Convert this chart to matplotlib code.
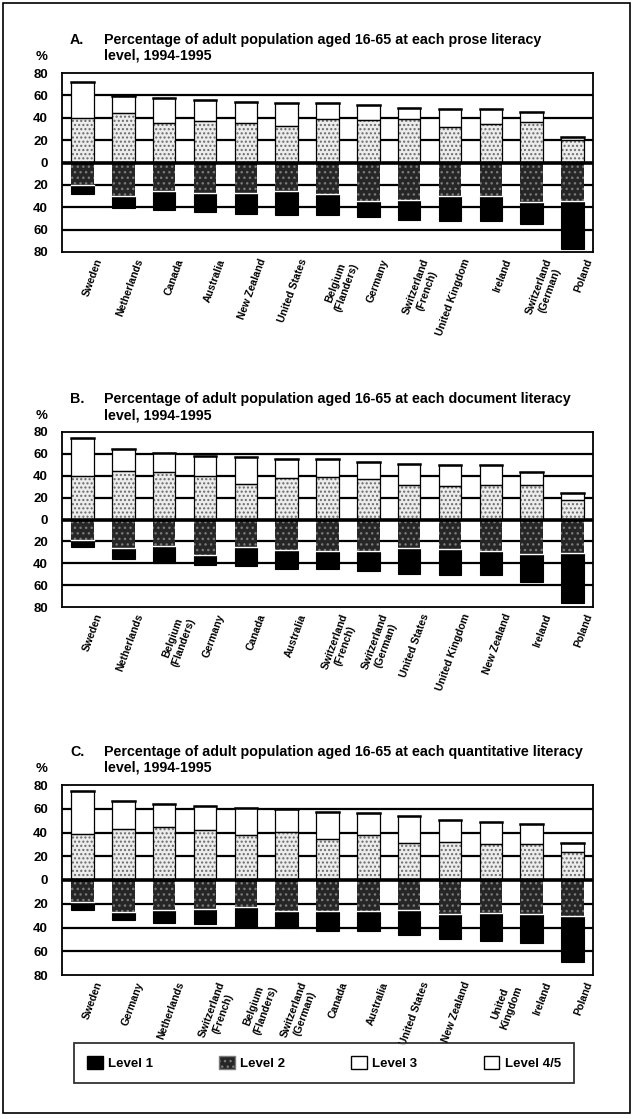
import numpy as np
import matplotlib
matplotlib.use("Agg")
import matplotlib.pyplot as plt
from matplotlib.patches import Patch, Rectangle

plt.rcParams['font.family'] = ['Liberation Sans', 'DejaVu Sans']
plt.rcParams['font.weight'] = 'bold'
plt.rcParams['hatch.linewidth'] = 1.0

levels = ["Level 1", "Level 2", "Level 3", "Level 4/5"]

# A. prose literacy
prose_countries = ["Sweden", "Netherlands", "Canada", "Australia", "New Zealand",
                   "United States", "Belgium\n(Flanders)", "Germany",
                   "Switzerland\n(French)", "United Kingdom", "Ireland",
                   "Switzerland\n(German)", "Poland"]
prose_l1 = [7.5, 10.5, 16.6, 17.0, 18.4, 20.7, 18.4, 14.4, 17.6, 21.8, 22.6, 19.3, 42.6]
prose_l2 = [20.3, 30.1, 25.6, 27.1, 27.3, 25.9, 28.2, 34.2, 33.7, 30.3, 29.8, 35.7, 34.5]
prose_l3 = [39.7, 44.1, 35.1, 36.9, 35.0, 32.4, 39.0, 38.0, 38.6, 31.3, 34.1, 36.1, 19.8]
prose_l45 = [32.4, 15.3, 22.7, 18.9, 19.2, 21.1, 14.3, 13.4, 10.0, 16.6, 13.5, 8.9, 3.1]

# B. document literacy
doc_countries = ["Sweden", "Netherlands", "Belgium\n(Flanders)", "Germany", "Canada",
                 "Australia", "Switzerland\n(French)", "Switzerland\n(German)",
                 "United States", "United Kingdom", "New Zealand", "Ireland", "Poland"]
doc_l1 = [6.2, 10.1, 15.3, 9.0, 18.2, 17.0, 16.2, 18.1, 23.7, 23.3, 21.4, 25.3, 45.4]
doc_l2 = [18.9, 25.7, 24.2, 32.7, 24.7, 27.8, 28.8, 29.1, 25.9, 27.1, 29.2, 31.7, 30.7]
doc_l3 = [39.4, 44.2, 43.2, 39.5, 32.1, 37.7, 38.9, 36.6, 31.4, 30.5, 31.9, 31.5, 18.0]
doc_l45 = [35.5, 20.0, 17.2, 18.9, 25.1, 17.4, 16.0, 16.1, 19.0, 19.1, 17.6, 11.5, 5.8]

# C. quantitative literacy
quant_countries = ["Sweden", "Germany", "Netherlands", "Switzerland\n(French)",
                   "Belgium\n(Flanders)", "Switzerland\n(German)", "Canada", "Australia",
                   "United States", "New Zealand", "United\nKingdom", "Ireland", "Poland"]
quant_l1 = [6.6, 6.7, 10.3, 12.9, 16.7, 14.2, 16.9, 16.8, 21.0, 20.4, 23.2, 24.8, 39.1]
quant_l2 = [18.6, 26.6, 25.5, 24.5, 23.0, 26.2, 26.1, 26.5, 25.3, 28.9, 27.8, 28.3, 30.1]
quant_l3 = [39.0, 43.2, 44.3, 42.2, 37.8, 40.7, 34.8, 37.7, 31.3, 32.4, 30.4, 30.7, 24.0]
quant_l45 = [35.8, 23.5, 19.9, 20.4, 22.6, 19.0, 22.2, 19.1, 22.5, 18.3, 18.6, 16.2, 6.8]

W, H = 634, 1119
fig = plt.figure(figsize=(W / 100, H / 100), dpi=100)

# outer frame
fig.patches.append(Rectangle((3 / W, 1 - 1113 / H), 627 / W, 1110 / H, transform=fig.transFigure,
                             fill=False, edgecolor="black", linewidth=1.2))

L3_FACE, L3_DOT = "#ececec", "#6a6a6a"
L2_FACE, L2_DOT = "#262626", "#7a7a7a"


def panel(top, bottom, letter, kind, countries, l1, l2, l3, l45):
    ax = fig.add_axes([62 / W, 1 - bottom / H, 531 / W, (bottom - top) / H])
    x = np.arange(len(countries))
    w = 0.55
    l1, l2, l3, l45 = map(np.array, (l1, l2, l3, l45))

    for yv in [60, 40, 20, -20, -40, -60]:
        ax.axhline(yv, color="black", lw=1.6, zorder=1)

    # below zero: Level 2 next to zero, Level 1 underneath
    ax.bar(x, -l2, w, color=L2_FACE, edgecolor=L2_DOT, hatch="...", lw=0, zorder=2)
    ax.bar(x, -l1, w, bottom=-l2, color="black", edgecolor="black", lw=0.8, zorder=2)
    ax.plot([x - w / 2, x + w / 2], [-l2, -l2], color="white", lw=1.0, zorder=3)
    # above zero: Level 3 then Level 4/5
    ax.bar(x, l3, w, color=L3_FACE, edgecolor=L3_DOT, hatch="....", lw=0, zorder=2)
    ax.bar(x, l3, w, fill=False, edgecolor="black", lw=0.9, zorder=3)
    ax.bar(x, l45, w, bottom=l3, color="white", edgecolor="black", lw=0.9, zorder=2)
    ax.plot([x - w / 2, x + w / 2], [l3 + l45, l3 + l45], color="black", lw=1.8, zorder=3)

    ax.axhline(0, color="black", lw=2.6, zorder=4)

    ax.set_xlim(-0.5, len(countries) - 0.5)
    ax.set_ylim(-80, 80)
    ticks = np.arange(-80, 81, 20)
    ax.set_yticks(ticks)
    ax.set_yticklabels([str(abs(t)) for t in ticks], fontsize=9.5, fontweight="bold")
    ax.tick_params(axis="y", length=0, pad=10)
    ax.set_xticks(x + 0.3)
    ax.set_xticklabels(countries, fontsize=7.6, fontweight="bold", rotation=70,
                       ha="right", va="top", rotation_mode="anchor", multialignment="center")
    ax.tick_params(axis="x", length=0, pad=4)
    for s in ax.spines.values():
        s.set_linewidth(1.3)

    ty = 1 - (top - 33) / H
    fig.text(70 / W, ty, letter, fontsize=10.3, fontweight="bold", va="center")
    fig.text(104 / W, ty, "Percentage of adult population aged 16-65 at each "
             + kind + " literacy", fontsize=10.3, fontweight="bold", va="center")
    fig.text(104 / W, ty - 16 / H, "level, 1994-1995", fontsize=10.3, fontweight="bold", va="center")
    fig.text(36 / W, ty - 17 / H, "%", fontsize=9.5, fontweight="bold", va="center")
    return ax


panel(73, 252, "A.", "prose", prose_countries, prose_l1, prose_l2, prose_l3, prose_l45)
panel(432, 607, "B.", "document", doc_countries, doc_l1, doc_l2, doc_l3, doc_l45)
panel(785, 975, "C.", "quantitative", quant_countries, quant_l1, quant_l2, quant_l3, quant_l45)

handles = [Patch(facecolor="black", edgecolor="black"),
           Patch(facecolor=L2_FACE, edgecolor=L2_DOT, hatch="..."),
           Patch(facecolor="white", edgecolor="black"),
           Patch(facecolor="white", edgecolor="black")]
leg = fig.legend(handles, levels, ncol=4, loc="center", bbox_to_anchor=(324 / W, 1 - 1063 / H),
                 frameon=True, fancybox=False, edgecolor="black", fontsize=9.5,
                 columnspacing=5.0, handlelength=1.2, handleheight=1.2, handletextpad=0.4,
                 borderpad=1.0)
leg.get_frame().set_linewidth(1.3)

fig.savefig("out.png", dpi=100)
